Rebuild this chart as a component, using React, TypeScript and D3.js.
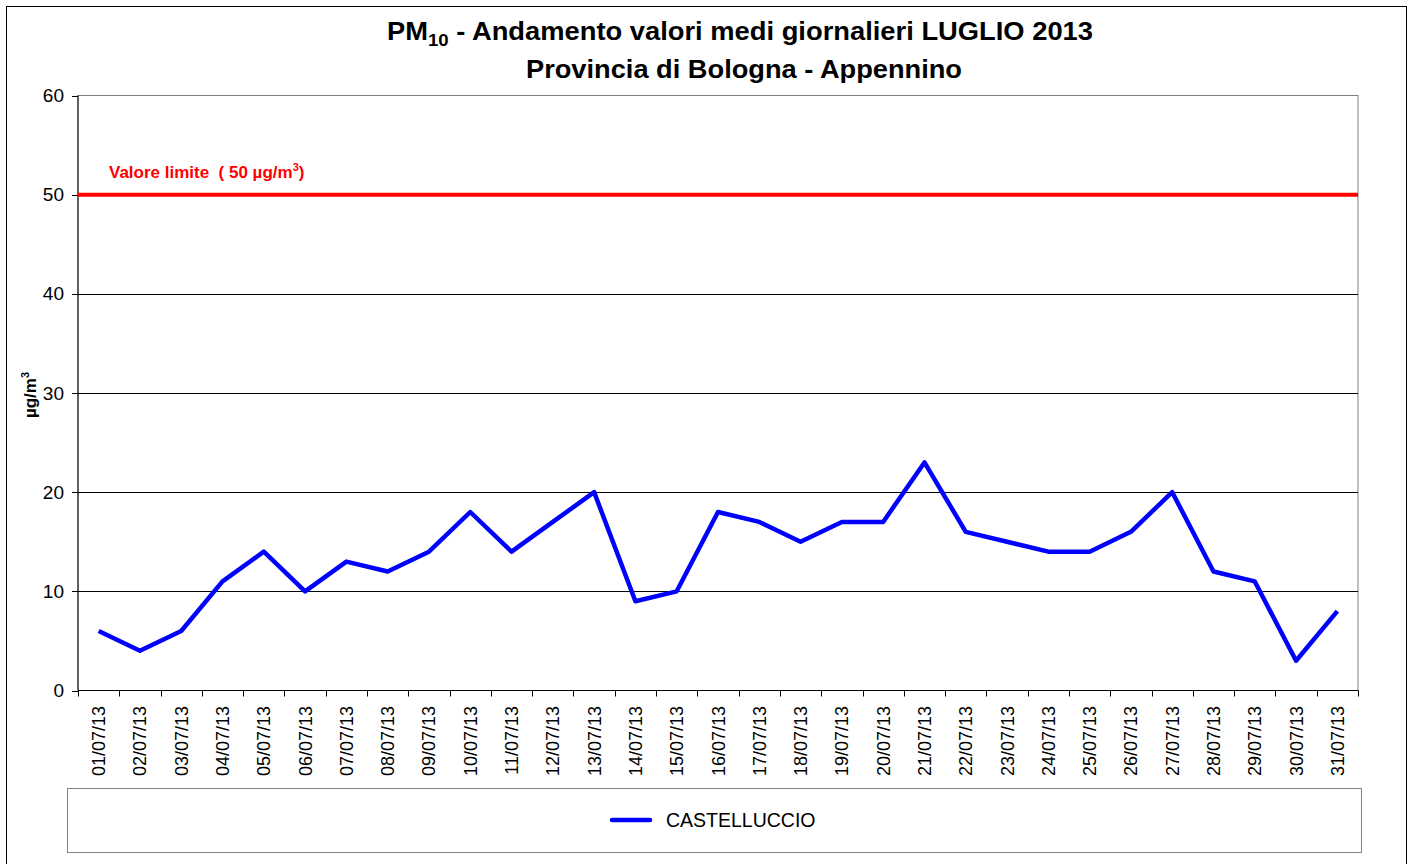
import React from 'react';
import * as d3 from 'd3';

// Data
const days = [
  '01/07/13', '02/07/13', '03/07/13', '04/07/13', '05/07/13', '06/07/13', '07/07/13', '08/07/13',
  '09/07/13', '10/07/13', '11/07/13', '12/07/13', '13/07/13', '14/07/13', '15/07/13', '16/07/13',
  '17/07/13', '18/07/13', '19/07/13', '20/07/13', '21/07/13', '22/07/13', '23/07/13', '24/07/13',
  '25/07/13', '26/07/13', '27/07/13', '28/07/13', '29/07/13', '30/07/13', '31/07/13',
];
const castelluccio = [6, 4, 6, 11, 14, 10, 13, 12, 14, 18, 14, 17, 20, 9, 10, 18, 17, 15, 17, 17, 23, 16, 15, 14, 14, 16, 20, 12, 11, 3, 8];
const yTicks = [0, 10, 20, 30, 40, 50, 60];
const limitValue = 50;
const seriesName = 'CASTELLUCCIO';

const W = 1415;
const H = 864;
const margin = { left: 78, right: 1358, top: 95.5, bottom: 690.5 };
const font = 'Liberation Sans, Arial, Helvetica, sans-serif';

export default function App() {
  const x = d3.scaleBand<string>().domain(days).range([margin.left, margin.right]).padding(0);
  const y = d3.scaleLinear().domain([0, 60]).range([margin.bottom, margin.top]);
  const cx = (d: string) => (x(d) ?? 0) + x.bandwidth() / 2;

  const line = d3.line<number>()
    .x((_, i) => cx(days[i]))
    .y(v => y(v));

  // ticks sit on the category boundaries
  const boundaries = d3.range(days.length + 1).map(i => margin.left + i * x.step());

  return (
    <svg width={W} height={H} style={{ position: 'absolute', left: 0, top: 0, display: 'block' }}>
      <rect x={0} y={0} width={W} height={H} fill="#fff" />
      <rect x={6.5} y={6.5} width={1400} height={880} fill="none" stroke="#000" strokeWidth={1} />

      {/* title */}
      <text x={387} y={40} fontFamily={font} fontWeight="bold" fontSize={25} fill="#000"
        textLength={706} lengthAdjust="spacingAndGlyphs">
        PM<tspan fontSize={17} dy={6}>10</tspan><tspan dy={-6}> - Andamento valori medi giornalieri LUGLIO 2013</tspan>
      </text>
      <text x={526} y={78} fontFamily={font} fontWeight="bold" fontSize={25} fill="#000"
        textLength={436} lengthAdjust="spacingAndGlyphs">
        Provincia di Bologna - Appennino
      </text>

      {/* plot frame */}
      <rect x={margin.left} y={margin.top} width={margin.right - margin.left} height={margin.bottom - margin.top}
        fill="none" stroke="#808080" strokeWidth={1} />

      {/* grid lines */}
      {yTicks.filter(t => t > 0 && t < 60).map(t => (
        <line key={t} x1={margin.left} x2={margin.right} y1={Math.round(y(t)) + 0.5} y2={Math.round(y(t)) + 0.5}
          stroke="#000" strokeWidth={1} />
      ))}

      {/* y axis */}
      <line x1={margin.left} x2={margin.left} y1={margin.top} y2={margin.bottom} stroke="#000" />
      {yTicks.map(t => (
        <g key={t}>
          <line x1={margin.left - 6} x2={margin.left} y1={Math.round(y(t)) + 0.5} y2={Math.round(y(t)) + 0.5} stroke="#000" />
          <text x={margin.left - 14} y={y(t) + 6.5} textAnchor="end" fontFamily={font} fontSize={19} fill="#000">{t}</text>
        </g>
      ))}
      <text transform={`translate(36, 395) rotate(-90)`} textAnchor="middle" fontFamily={font} fontWeight="bold" fontSize={17} fill="#000">
        µg/m<tspan fontSize={11} dy={-7}>3</tspan>
      </text>

      {/* x axis */}
      <line x1={margin.left} x2={margin.right} y1={margin.bottom} y2={margin.bottom} stroke="#000" />
      {boundaries.map((b, i) => (
        <line key={i} x1={Math.round(b) + 0.5} x2={Math.round(b) + 0.5} y1={margin.bottom} y2={margin.bottom + 6} stroke="#000" />
      ))}
      {days.map(d => (
        <text key={d} transform={`translate(${cx(d) + 6.5}, 706) rotate(-90)`} textAnchor="end"
          fontFamily={font} fontSize={18} fill="#000">{d}</text>
      ))}

      {/* limit line */}
      <line x1={margin.left} x2={margin.right} y1={y(limitValue)} y2={y(limitValue)} stroke="#ff0000" strokeWidth={4} />
      <text x={109} y={178} fontFamily={font} fontWeight="bold" fontSize={17} fill="#ff0000" style={{ whiteSpace: 'pre' }}>
        {'Valore limite  ( 50 µg/m'}<tspan fontSize={11} dy={-7}>3</tspan><tspan dy={7}>)</tspan>
      </text>

      {/* series */}
      <path d={line(castelluccio) ?? ''} fill="none" stroke="#0000ff" strokeWidth={4.5} strokeLinejoin="round" />

      {/* legend */}
      <rect x={67.5} y={788.5} width={1294} height={64} fill="#fff" stroke="#808080" strokeWidth={1} />
      <line x1={612} x2={650} y1={820} y2={820} stroke="#0000ff" strokeWidth={4.5} strokeLinecap="round" />
      <text x={666} y={827} fontFamily={font} fontSize={19.5} fill="#000">{seriesName}</text>
    </svg>
  );
}
